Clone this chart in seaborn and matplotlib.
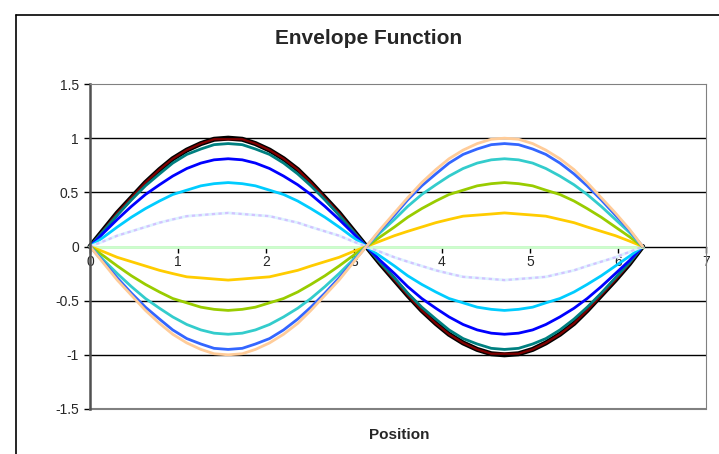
import matplotlib
matplotlib.use("Agg")
import matplotlib.pyplot as plt
import seaborn as sns
from matplotlib.lines import Line2D
from matplotlib.ticker import FuncFormatter

# Posiciones (0 .. 2*pi en pasos de pi/20)
x_pos = [0, 0.16, 0.31, 0.47, 0.63, 0.79, 0.94, 1.10, 1.26, 1.41, 1.57,
         1.73, 1.88, 2.04, 2.20, 2.36, 2.51, 2.67, 2.83, 2.98, 3.14,
         3.30, 3.46, 3.61, 3.77, 3.93, 4.08, 4.24, 4.40, 4.56, 4.71,
         4.87, 5.03, 5.18, 5.34, 5.50, 5.65, 5.81, 5.97, 6.13, 6.28]

y_black = [0, 0.16, 0.31, 0.45, 0.59, 0.71, 0.81, 0.89, 0.95, 0.99, 1.00,
           0.99, 0.95, 0.89, 0.81, 0.71, 0.59, 0.45, 0.31, 0.16, 0,
           -0.16, -0.31, -0.45, -0.59, -0.71, -0.81, -0.89, -0.95, -0.99, -1.00,
           -0.99, -0.95, -0.89, -0.81, -0.71, -0.59, -0.45, -0.31, -0.16, 0]
y_darkred = [0, 0.16, 0.31, 0.45, 0.59, 0.71, 0.81, 0.89, 0.95, 0.99, 0.99,
             0.99, 0.95, 0.89, 0.81, 0.71, 0.59, 0.45, 0.31, 0.16, 0,
             -0.16, -0.31, -0.45, -0.59, -0.71, -0.81, -0.89, -0.95, -0.99, -0.99,
             -0.99, -0.95, -0.89, -0.81, -0.71, -0.59, -0.45, -0.31, -0.16, 0]
y_teal = [0, 0.15, 0.29, 0.43, 0.56, 0.67, 0.77, 0.85, 0.90, 0.94, 0.95,
          0.94, 0.90, 0.85, 0.77, 0.67, 0.56, 0.43, 0.29, 0.15, 0,
          -0.15, -0.29, -0.43, -0.56, -0.67, -0.77, -0.85, -0.90, -0.94, -0.95,
          -0.94, -0.90, -0.85, -0.77, -0.67, -0.56, -0.43, -0.29, -0.15, 0]
y_blue = [0, 0.13, 0.25, 0.37, 0.48, 0.57, 0.65, 0.72, 0.77, 0.80, 0.81,
          0.80, 0.77, 0.72, 0.65, 0.57, 0.48, 0.37, 0.25, 0.13, 0,
          -0.13, -0.25, -0.37, -0.48, -0.57, -0.65, -0.72, -0.77, -0.80, -0.81,
          -0.80, -0.77, -0.72, -0.65, -0.57, -0.48, -0.37, -0.25, -0.13, 0]
y_cyan = [0, 0.09, 0.18, 0.27, 0.35, 0.42, 0.48, 0.52, 0.56, 0.58, 0.59,
          0.58, 0.56, 0.52, 0.48, 0.42, 0.35, 0.27, 0.18, 0.09, 0,
          -0.09, -0.18, -0.27, -0.35, -0.42, -0.48, -0.52, -0.56, -0.58, -0.59,
          -0.58, -0.56, -0.52, -0.48, -0.42, -0.35, -0.27, -0.18, -0.09, 0]
y_lavender = [0, 0.05, 0.10, 0.14, 0.18, 0.22, 0.25, 0.28, 0.29, 0.30, 0.31,
              0.30, 0.29, 0.28, 0.25, 0.22, 0.18, 0.14, 0.10, 0.05, 0,
              -0.05, -0.10, -0.14, -0.18, -0.22, -0.25, -0.28, -0.29, -0.30, -0.31,
              -0.30, -0.29, -0.28, -0.25, -0.22, -0.18, -0.14, -0.10, -0.05, 0]
y_green = [0] * 41
y_gold = [0, -0.05, -0.10, -0.14, -0.18, -0.22, -0.25, -0.28, -0.29, -0.30, -0.31,
          -0.30, -0.29, -0.28, -0.25, -0.22, -0.18, -0.14, -0.10, -0.05, 0,
          0.05, 0.10, 0.14, 0.18, 0.22, 0.25, 0.28, 0.29, 0.30, 0.31,
          0.30, 0.29, 0.28, 0.25, 0.22, 0.18, 0.14, 0.10, 0.05, 0]
y_lime = [0, -0.09, -0.18, -0.27, -0.35, -0.42, -0.48, -0.52, -0.56, -0.58, -0.59,
          -0.58, -0.56, -0.52, -0.48, -0.42, -0.35, -0.27, -0.18, -0.09, 0,
          0.09, 0.18, 0.27, 0.35, 0.42, 0.48, 0.52, 0.56, 0.58, 0.59,
          0.58, 0.56, 0.52, 0.48, 0.42, 0.35, 0.27, 0.18, 0.09, 0]
y_turq = [0, -0.13, -0.25, -0.37, -0.48, -0.57, -0.65, -0.72, -0.77, -0.80, -0.81,
          -0.80, -0.77, -0.72, -0.65, -0.57, -0.48, -0.37, -0.25, -0.13, 0,
          0.13, 0.25, 0.37, 0.48, 0.57, 0.65, 0.72, 0.77, 0.80, 0.81,
          0.80, 0.77, 0.72, 0.65, 0.57, 0.48, 0.37, 0.25, 0.13, 0]
y_royal = [0, -0.15, -0.29, -0.43, -0.56, -0.67, -0.77, -0.85, -0.90, -0.94, -0.95,
           -0.94, -0.90, -0.85, -0.77, -0.67, -0.56, -0.43, -0.29, -0.15, 0,
           0.15, 0.29, 0.43, 0.56, 0.67, 0.77, 0.85, 0.90, 0.94, 0.95,
           0.94, 0.90, 0.85, 0.77, 0.67, 0.56, 0.43, 0.29, 0.15, 0]
y_peach = [0, -0.16, -0.31, -0.45, -0.59, -0.71, -0.81, -0.89, -0.95, -0.99, -1.00,
           -0.99, -0.95, -0.89, -0.81, -0.71, -0.59, -0.45, -0.31, -0.16, 0,
           0.16, 0.31, 0.45, 0.59, 0.71, 0.81, 0.89, 0.95, 0.99, 1.00,
           0.99, 0.95, 0.89, 0.81, 0.71, 0.59, 0.45, 0.31, 0.16, 0]

y_ticks = [-1.5, -1, -0.5, 0, 0.5, 1, 1.5]
x_ticks = [0, 1, 2, 3, 4, 5, 6, 7]

sns.set_style("white")
plt.rcParams['font.family'] = ['Liberation Sans', 'DejaVu Sans']

fig = plt.figure(figsize=(7.19, 4.54), dpi=100)
ax = fig.add_axes([90 / 719, 45 / 454, 616 / 719, 325 / 454])

# lineas de cuadricula
for yv in [-1, -0.5, 0.5, 1]:
    ax.axhline(yv, color='black', lw=1, zorder=0)

series = [
    (y_black, '#000000', 3.6),
    (y_darkred, '#800000', 1.6),
    (y_teal, '#008080', 2.0),
    (y_blue, '#0000FF', 2.0),
    (y_cyan, '#00CCFF', 2.0),
    (y_lavender, '#DDF4FF', 2.0),
    (y_green, '#CCFFCC', 2.0),
    (y_gold, '#FFCC00', 2.0),
    (y_lime, '#99CC00', 2.0),
    (y_turq, '#33CCCC', 2.0),
    (y_royal, '#3366FF', 2.0),
    (y_peach, '#FFCC99', 2.0),
]
for vals, col, lw in series:
    sns.lineplot(x=x_pos, y=vals, color=col, lw=lw, ax=ax, clip_on=False)
# lavanda punteada sobre celeste claro
sns.lineplot(x=x_pos, y=y_lavender, color='#CC99FF', lw=1.6, ax=ax,
             linestyle=(0, (1.5, 1.5)), alpha=0.55)

ax.set_xlim(0, 7)
ax.set_ylim(-1.5, 1.5)
ax.set_xticks(x_ticks)
ax.set_yticks(y_ticks)
ax.yaxis.set_major_formatter(FuncFormatter(lambda v, p: f"{v:g}"))

ax.spines['bottom'].set_position(('data', 0))
ax.spines['bottom'].set_color('black')
ax.spines['bottom'].set_linewidth(1.0)
ax.spines['bottom'].set_zorder(0.5)
ax.spines['left'].set_color('#505050')
ax.spines['left'].set_linewidth(1.8)
ax.spines['right'].set_color('#808080')
ax.spines['top'].set_color('#808080')
ax.axhline(-1.5, color='#808080', lw=1.5, clip_on=False)

ax.tick_params(axis='x', direction='out', length=4, width=1, color='black',
               labelsize=10, pad=2, bottom=True)
ax.tick_params(axis='y', direction='out', length=4, width=1, color='black',
               labelsize=10, pad=4, left=True)

fig.text(369 / 719, 1 - 38 / 454, 'Envelope Function', ha='center', va='center',
         fontsize=15, fontweight='bold')
fig.text(399 / 719, 1 - 435 / 454, 'Position', ha='center', va='center',
         fontsize=11, fontweight='bold')

# marco exterior del grafico
fig.add_artist(Line2D([16 / 719, 16 / 719], [0, 1 - 15 / 454], color='black',
                      lw=1.2, transform=fig.transFigure))
fig.add_artist(Line2D([16 / 719, 1], [1 - 15 / 454, 1 - 15 / 454], color='black',
                      lw=1.2, transform=fig.transFigure))

fig.savefig('out.png', dpi=100)
